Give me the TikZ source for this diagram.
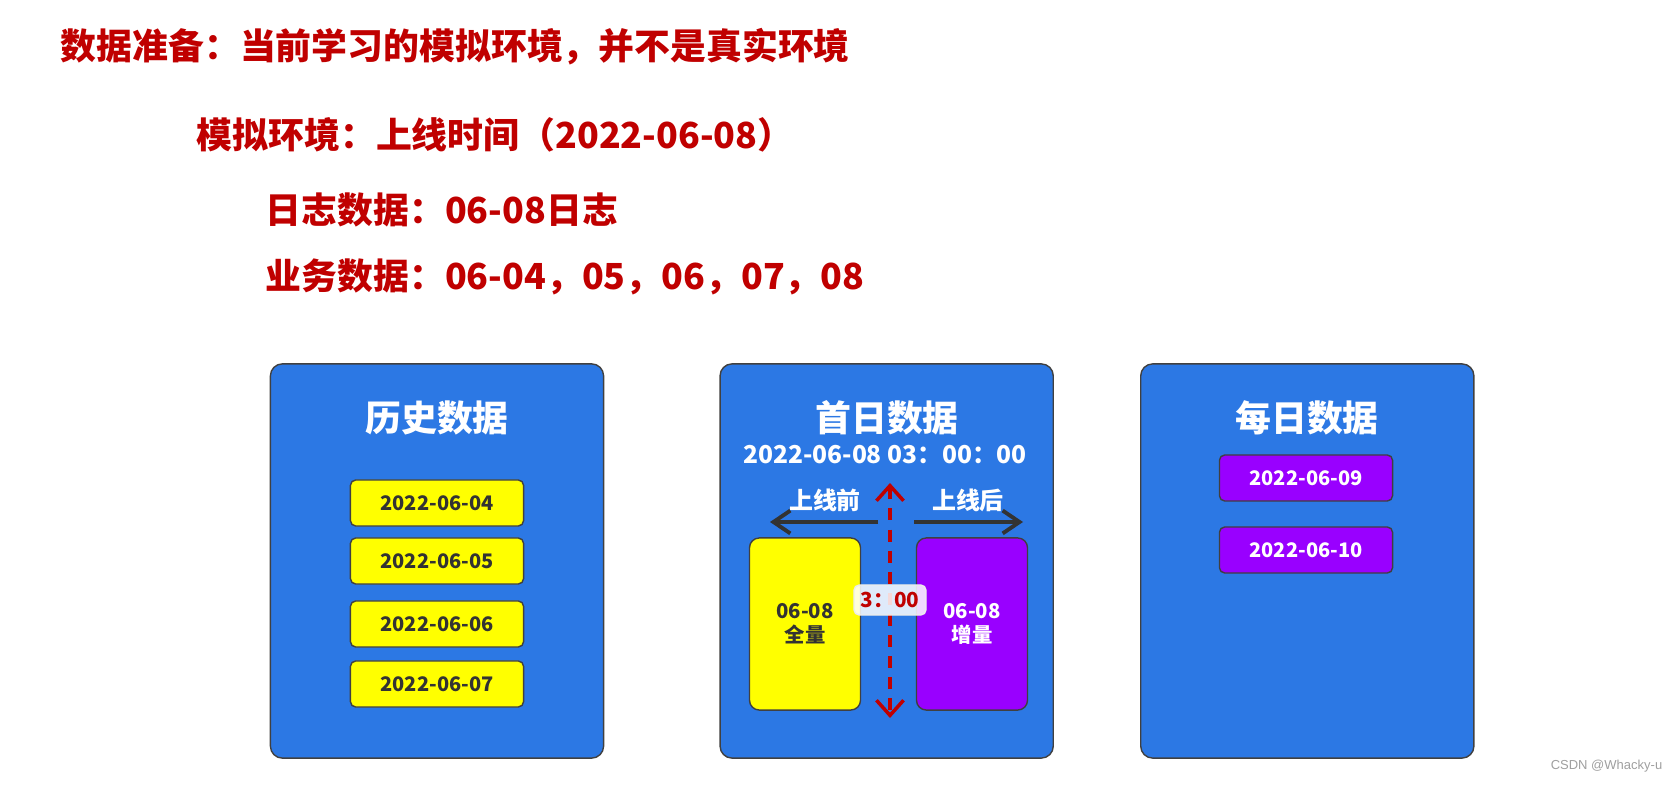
\documentclass[tikz,border=0pt]{standalone}
\usepackage{fontspec}
\setmainfont{Noto Sans CJK SC}
\newfontfamily\marksans{Liberation Sans}
\usepackage{xcolor}
\usetikzlibrary{positioning, arrows.meta}
\definecolor{titlered}{RGB}{192,0,0}
\definecolor{panelblue}{RGB}{44,120,228}
\definecolor{dayyellow}{RGB}{255,255,0}
\definecolor{daypurple}{RGB}{153,0,255}
\definecolor{darkline}{RGB}{64,64,64}
\definecolor{darktext}{RGB}{51,51,51}

\begin{document}
\begin{tikzpicture}[x=0.01cm, y=-0.01cm,
    heading/.style={font=\bfseries\fontsize{10.2}{12}\selectfont, text=titlered, inner sep=0pt, anchor=west},
    panel/.style={rectangle, draw=darkline, line width=0.4pt, fill=panelblue, rounded corners=3.4pt, minimum width=3.33cm, minimum height=3.94cm},
    paneltitle/.style={font=\bfseries\fontsize{10.2}{12}\selectfont, text=white, inner sep=0pt},
    sidelabel/.style={font=\bfseries\fontsize{6.8}{8}\selectfont, text=white, inner sep=0pt},
    datebox/.style={rectangle, draw=darkline, line width=0.4pt, rounded corners=1.5pt, minimum width=1.73cm, minimum height=0.46cm, inner sep=0pt, font=\bfseries\fontsize{5.7}{7}\selectfont},
    histbox/.style={datebox, fill=dayyellow, text=darktext},
    dailybox/.style={datebox, fill=daypurple, text=white},
    tallbox/.style={rectangle, draw=darkline, line width=0.4pt, rounded corners=2.8pt, minimum width=1.11cm, minimum height=1.72cm, inner sep=0pt, align=center, font=\bfseries\fontsize{5.8}{6.8}\selectfont},
    sidearrow/.style={draw=darktext, line width=1.1pt, -{Straight Barb[length=4.8pt, width=6.5pt]}},
    cutline/.style={draw=titlered, line width=1pt, dash pattern=on 3.4pt off 2.6pt, {Straight Barb[length=4.3pt, width=7.7pt]}-{Straight Barb[length=4.3pt, width=7.7pt]}}]

    \useasboundingbox (0,0) rectangle (1678,791);

    \node [heading] (prep) at (60,47) {数据准备：当前学习的模拟环境，并不是真实环境};
    \node [heading] (env) at (196,135) {模拟环境：上线时间（2022-06-08）};
    \node [heading] (log) at (265,210) {日志数据：06-08日志};
    \node [heading] (biz) at (265,277) {业务数据：06-04，05，06，07，08};

    \node [panel] (hist) at (437,561) {};
    \node [panel, right=1.15cm of hist] (first) {};
    \node [panel, right=0.86cm of first] (daily) {};

    \node [paneltitle] (histtitle) at (437,418) {历史数据};
    \node [histbox] (d04) at (437,503) {2022-06-04};
    \node [histbox] (d05) at (437,561) {2022-06-05};
    \node [histbox] (d06) at (437,624) {2022-06-06};
    \node [histbox] (d07) at (437,684) {2022-06-07};

    \node [paneltitle] (firsttitle) at (887,418) {首日数据};
    \node [paneltitle, font=\bfseries\fontsize{7.0}{8.4}\selectfont] (firsttime) at (885,455) {2022-06-08 03：00：00};
    \node [sidelabel] (before) at (825,500) {上线前};
    \node [sidelabel] (after) at (968,500) {上线后};
    \coordinate (beforestart) at (878,522);
    \coordinate (beforeend) at (770,522);
    \coordinate (afterstart) at (914,522);
    \coordinate (afterend) at (1023,522);
    \coordinate (cuttop) at (890,483);
    \coordinate (cutbottom) at (890,718);
    \draw [sidearrow] (beforestart) -- (beforeend);
    \draw [sidearrow] (afterstart) -- (afterend);
    \node [tallbox, fill=dayyellow, text=darktext] (full) at (805,624) {06-08\\全量};
    \node [tallbox, fill=daypurple, text=white] (incr) at (972,624) {06-08\\增量};
    \draw [cutline] (cuttop) -- (cutbottom);
    \node [rectangle, draw=white!85!gray, line width=0.4pt, fill=white, fill opacity=0.85, text opacity=1, rounded corners=1.5pt, minimum width=0.72cm, minimum height=0.30cm, inner sep=0pt, text=titlered, font=\bfseries\fontsize{5.9}{7}\selectfont] (cuttime) at (890,600) {3：00};

    \node [paneltitle] (dailytitle) at (1307,418) {每日数据};
    \node [dailybox] (d09) at (1306,478) {2022-06-09};
    \node [dailybox] (d10) at (1306,550) {2022-06-10};

    \node [anchor=east, inner sep=0pt, text=gray!75, font=\marksans\fontsize{3.7}{4.5}\selectfont] (mark) at (1663,766) {CSDN @Whacky-u};
\end{tikzpicture}
\end{document}
